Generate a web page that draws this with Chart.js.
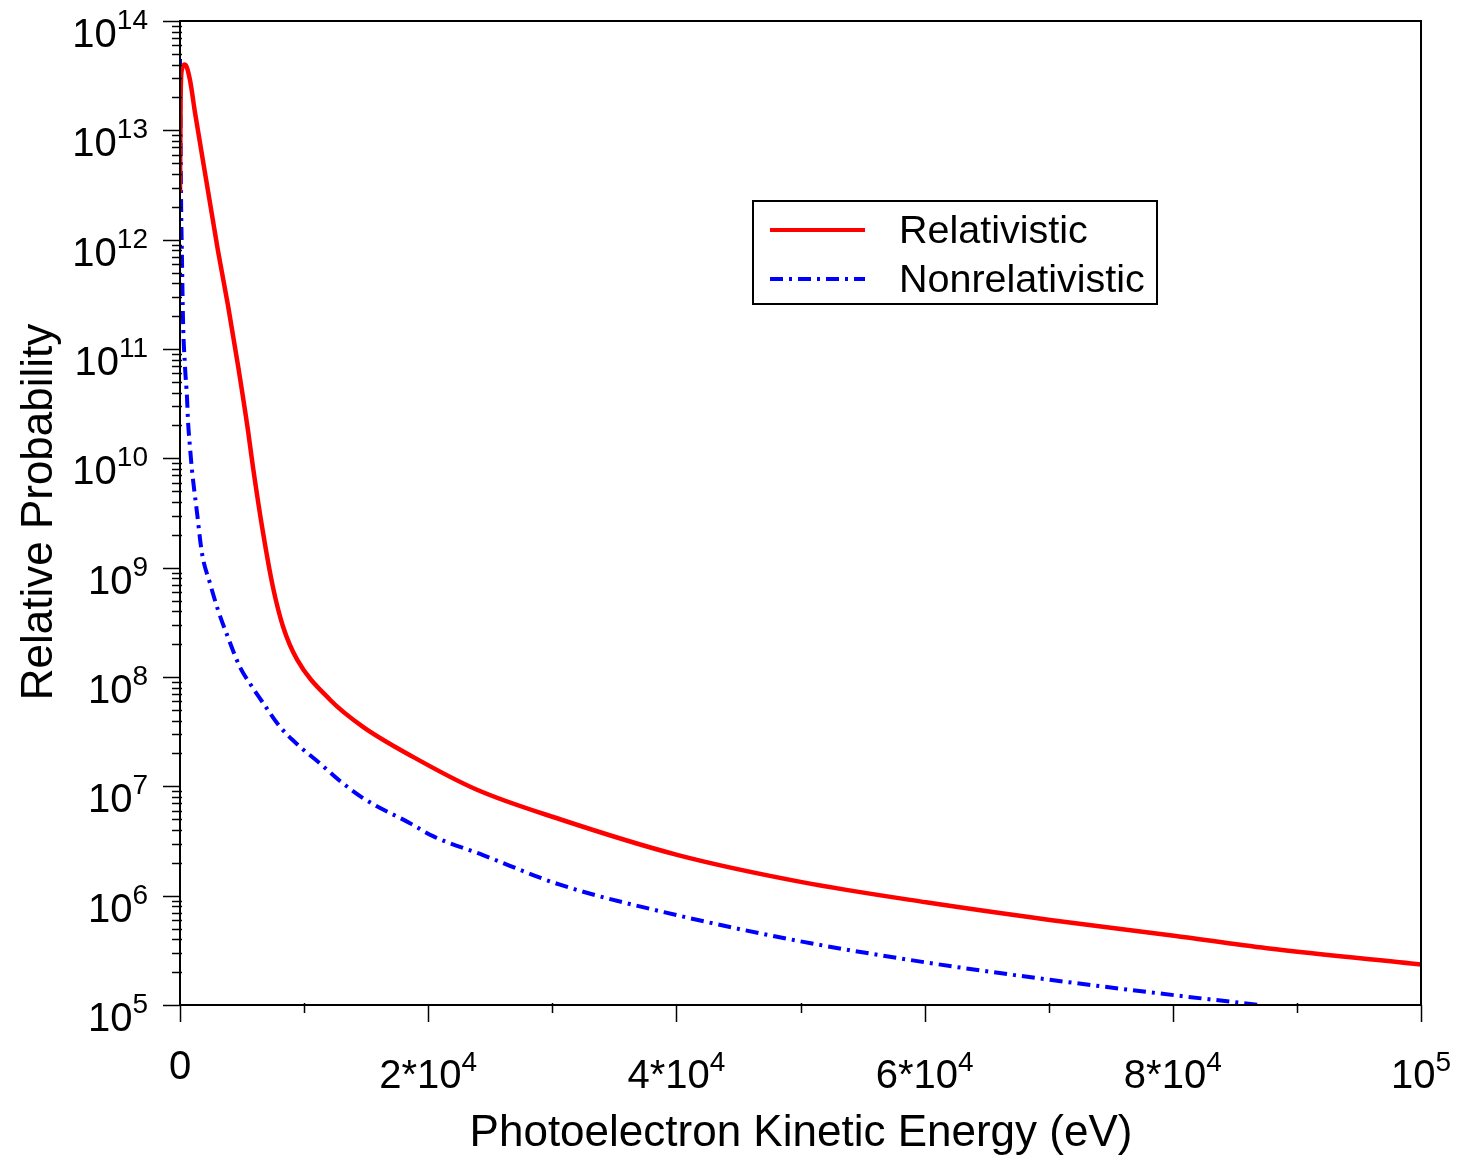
<!DOCTYPE html>
<html>
<head>
<meta charset="utf-8">
<script src="https://cdn.jsdelivr.net/npm/chart.js@4.4.1/dist/chart.umd.min.js"></script>
<style>
html,body{margin:0;padding:0;background:#fff}
</style>
</head>
<body>
<canvas id="chart" width="1457" height="1156"></canvas>
<script>
// photoelectron energy (eV) and relative probability
const energyRel=[0,50,150,400,800,1209,2256,3062,3868,4673,5479,5882,6688,7494,8300,9428,12087,14746,18775,23932,30620,40129,50121,60113,70105,80097,87591,100000];
const probRel=[2.7e12,2.0e13,3.6e13,4.0e13,2.9e13,1.45e13,2.8e12,7.9e11,2.5e11,7.1e10,1.8e10,8.3e9,2.1e9,6.6e8,2.9e8,1.45e8,6.2e7,3.5e7,1.86e7,9.3e6,5.0e6,2.35e6,1.33e6,8.7e5,6.0e5,4.3e5,3.3e5,2.35e5];

const energyNonrel=[0,80,161,242,403,564,645,806,967,1370,1773,2417,3062,3868,4835,5641,6688,8058,9670,11281,12893,14746,18533,20387,24416,30620,40129,50121,60113,70105,80097,87000];
const probNonrel=[4.5e13,2.7e12,6.5e11,1.86e11,6.9e10,3.6e10,2.2e10,1.26e10,7.8e9,3.2e9,1.35e9,7.2e8,4.1e8,2.3e8,1.23e8,8.7e7,5.8e7,3.5e7,2.3e7,1.62e7,1.12e7,7.8e6,4.6e6,3.5e6,2.35e6,1.26e6,6.6e5,3.8e5,2.45e5,1.7e5,1.23e5,1.0e5];

const xTicks=[0,20000,40000,60000,80000,100000];
const xMinor=[10000,30000,50000,70000,90000];
const xTickBase=["0","2*10","4*10","6*10","8*10","10"];
const xTickExp=["","4","4","4","4","5"];
const yTicks=[1e5,1e6,1e7,1e8,1e9,1e10,1e11,1e12,1e13,1e14];
const yTickExp=["5","6","7","8","9","10","11","12","13","14"];

const FONT='"Liberation Sans", Arial, Helvetica, sans-serif';
const BASE="40px "+FONT, EXP="28px "+FONT;

const decor={
  id:"decor",
  afterDraw(chart){
    const c=chart.ctx, a=chart.chartArea;
    const xs=chart.scales.x, ys=chart.scales.y;
    c.save();
    c.strokeStyle="#000";
    c.fillStyle="#000";
    // frame
    c.lineWidth=2;
    c.strokeRect(a.left,a.top,a.right-a.left,a.bottom-a.top);
    // y ticks
    c.lineWidth=1.5;
    yTicks.forEach(v=>{
      const y=Math.round(ys.getPixelForValue(v))+0.5;
      c.beginPath();c.moveTo(a.left-17,y);c.lineTo(a.left,y);c.stroke();
    });
    for(let i=0;i<yTicks.length-1;i++){
      for(let m=2;m<=9;m++){
        const y=Math.round(ys.getPixelForValue(yTicks[i]*m))+0.5;
        c.beginPath();c.moveTo(a.left-8,y);c.lineTo(a.left+2,y);c.stroke();
      }
    }
    // x ticks
    xTicks.forEach(v=>{
      const x=Math.round(xs.getPixelForValue(v))+0.5;
      c.beginPath();c.moveTo(x,a.bottom);c.lineTo(x,a.bottom+17);c.stroke();
    });
    xMinor.forEach(v=>{
      const x=Math.round(xs.getPixelForValue(v))+0.5;
      c.beginPath();c.moveTo(x,a.bottom-2);c.lineTo(x,a.bottom+8);c.stroke();
    });
    // y labels
    c.textAlign="left";c.textBaseline="alphabetic";
    yTicks.forEach((v,i)=>{
      const y=ys.getPixelForValue(v);
      c.font=BASE;
      const bw=c.measureText("10").width;
      c.font=EXP;
      const ew=c.measureText(yTickExp[i]).width;
      const x0=148-ew-bw;
      c.font=BASE;
      c.fillText("10",x0,y+26);
      c.font=EXP;
      c.fillText(yTickExp[i],x0+bw,y+8);
    });
    // x labels
    xTicks.forEach((v,i)=>{
      const x=xs.getPixelForValue(v);
      c.font=BASE;
      const bw=c.measureText(xTickBase[i]).width;
      c.font=EXP;
      const ew=xTickExp[i]?c.measureText(xTickExp[i]).width:0;
      const x0=x-(bw+ew)/2;
      c.font=BASE;
      c.fillText(xTickBase[i],x0,xTickExp[i]?1088:1079);
      if(xTickExp[i]){c.font=EXP;c.fillText(xTickExp[i],x0+bw,1071);}
    });
    // axis titles
    c.font="44px "+FONT;
    c.textAlign="center";
    c.fillText("Photoelectron Kinetic Energy (eV)",801,1146);
    c.save();
    c.translate(52,512);c.rotate(-Math.PI/2);
    c.fillText("Relative Probability",0,0);
    c.restore();
    // legend
    c.lineWidth=2;
    c.strokeRect(753,201,404,103);
    c.lineWidth=4;c.strokeStyle="#ff0000";
    c.beginPath();c.moveTo(770,230);c.lineTo(865,230);c.stroke();
    c.strokeStyle="#0000ff";c.setLineDash([13,6,3,6]);
    c.beginPath();c.moveTo(770,279);c.lineTo(865,279);c.stroke();
    c.setLineDash([]);
    c.font="39.5px "+FONT;c.textAlign="left";c.fillStyle="#000";
    c.fillText(chart.data.datasets[0].label,899,243);
    c.fillText(chart.data.datasets[1].label,899,292);
    c.restore();
  }
};

new Chart(document.getElementById("chart"),{
  type:"line",
  data:{
    datasets:[
      {
        label:"Relativistic",
        data:energyRel.map((e,i)=>({x:e,y:probRel[i]})),
        borderColor:"#ff0000",
        borderWidth:4.5,
        pointRadius:0,
        cubicInterpolationMode:"monotone",
        fill:false
      },
      {
        label:"Nonrelativistic",
        data:energyNonrel.map((e,i)=>({x:e,y:probNonrel[i]})),
        borderColor:"#0000ff",
        borderWidth:4,
        borderDash:[13,6,3,6],
        pointRadius:0,
        cubicInterpolationMode:"monotone",
        fill:false
      }
    ]
  },
  options:{
    responsive:false,
    animation:false,
    devicePixelRatio:1,
    layout:{padding:{left:180,right:36,top:21,bottom:151}},
    plugins:{legend:{display:false},tooltip:{enabled:false}},
    scales:{
      x:{type:"linear",min:0,max:100000,
        ticks:{display:false},grid:{display:false,drawTicks:false},border:{display:false},
        afterFit(s){s.height=0;}},
      y:{type:"logarithmic",min:1e5,max:1e14,
        ticks:{display:false},grid:{display:false,drawTicks:false},border:{display:false},
        afterFit(s){s.width=0;}}
    }
  },
  plugins:[decor]
});
</script>
</body>
</html>
